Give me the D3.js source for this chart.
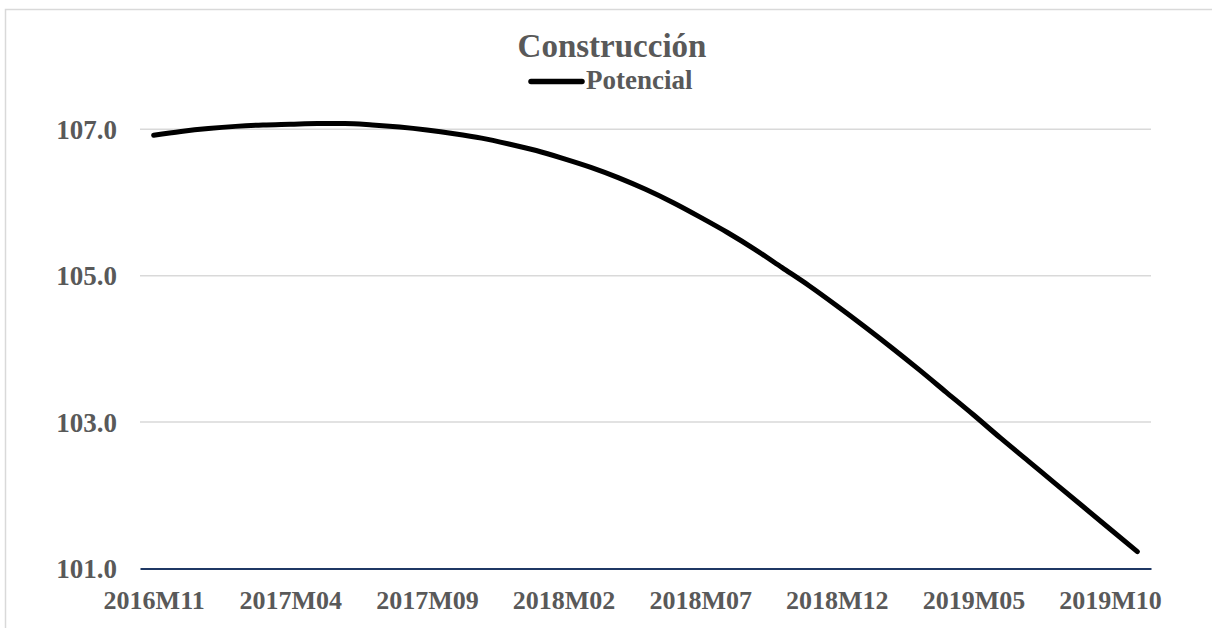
<!DOCTYPE html>
<html>
<head>
<meta charset="utf-8">
<script src="https://cdn.jsdelivr.net/npm/d3@7"></script>
<style>
  html, body { margin: 0; padding: 0; background: #fff; }
  svg { display: block; }
  text { font-family: "Liberation Serif", "DejaVu Serif", serif; font-weight: bold; fill: #595959; }
</style>
</head>
<body>
<script>
// months shown on the category axis (one point per month)
var months = [
  "2016M11","2016M12","2017M01","2017M02","2017M03","2017M04","2017M05","2017M06",
  "2017M07","2017M08","2017M09","2017M10","2017M11","2017M12","2018M01","2018M02",
  "2018M03","2018M04","2018M05","2018M06","2018M07","2018M08","2018M09","2018M10",
  "2018M11","2018M12","2019M01","2019M02","2019M03","2019M04","2019M05","2019M06",
  "2019M07","2019M08","2019M09","2019M10","2019M11"
];
// "Potencial" series
var potencial = [
  106.92,106.97,107.01,107.04,107.06,107.07,107.08,107.08,
  107.06,107.03,106.99,106.94,106.88,106.80,106.71,106.60,
  106.48,106.34,106.18,106.00,105.80,105.59,105.36,105.11,
  104.86,104.59,104.31,104.02,103.72,103.41,103.10,102.78,
  102.47,102.16,101.85,101.54,101.23
];
var xTickLabels = ["2016M11","2017M04","2017M09","2018M02","2018M07","2018M12","2019M05","2019M10"];
var yTicks = [101, 103, 105, 107];

var w = 1212, h = 628;
var plotLeft = 140, plotRight = 1151, plotTop = 129.3, plotBottom = 568.5;

var svg = d3.select("body").append("svg")
  .attr("width", w)
  .attr("height", h);

// chart frame (runs off the page on the right and bottom)
svg.append("rect")
  .attr("x", 5.5).attr("y", 9.5)
  .attr("width", w).attr("height", h)
  .attr("fill", "#fff")
  .attr("stroke", "#d9d9d9")
  .attr("stroke-width", 1.5);

var xScale = d3.scalePoint()
  .domain(months)
  .range([plotLeft, plotRight])
  .padding(0.5);
var yScale = d3.scaleLinear()
  .domain([101, 107])
  .range([plotBottom, plotTop]);

// gridlines
svg.append("g")
  .selectAll("line")
  .data(yTicks.filter(function(d) { return d > 101; }))
  .enter().append("line")
  .attr("x1", plotLeft).attr("x2", plotRight)
  .attr("y1", function(d) { return yScale(d); })
  .attr("y2", function(d) { return yScale(d); })
  .attr("stroke", "#d9d9d9")
  .attr("stroke-width", 1.5);

// y axis labels
var yAxis = d3.axisLeft(yScale)
  .tickValues(yTicks)
  .tickFormat(d3.format(".1f"))
  .tickSize(0)
  .tickPadding(23);
var gy = svg.append("g")
  .attr("transform", "translate(" + plotLeft + ",0)")
  .call(yAxis);
gy.select(".domain").remove();
gy.selectAll("text")
  .attr("dy", "0.33em")
  .style("font-size", "27px")
  .style("font-family", "Liberation Serif")
  .attr("fill", "#595959");

// x axis
var xAxis = d3.axisBottom(xScale)
  .tickValues(xTickLabels)
  .tickSize(0)
  .tickPadding(22);
var gx = svg.append("g")
  .attr("transform", "translate(0," + plotBottom + ")")
  .call(xAxis);
gx.select(".domain")
  .attr("stroke", "#1f3864")
  .attr("stroke-width", 2);
gx.selectAll("text")
  .style("font-size", "26px")
  .style("font-family", "Liberation Serif")
  .attr("fill", "#595959");

// series line
var line = d3.line()
  .x(function(d, i) { return xScale(months[i]); })
  .y(function(d) { return yScale(d); })
  .curve(d3.curveMonotoneX);
svg.append("path")
  .datum(potencial)
  .attr("d", line)
  .attr("fill", "none")
  .attr("stroke", "#000")
  .attr("stroke-width", 5)
  .attr("stroke-linecap", "round")
  .attr("stroke-linejoin", "round");

// title
svg.append("text")
  .attr("x", 612)
  .attr("y", 56.5)
  .attr("text-anchor", "middle")
  .style("font-size", "33px")
  .text("Construcción");

// legend
svg.append("line")
  .attr("x1", 531).attr("x2", 582)
  .attr("y1", 81.5).attr("y2", 81.5)
  .attr("stroke", "#000")
  .attr("stroke-width", 5.5)
  .attr("stroke-linecap", "round");
svg.append("text")
  .attr("x", 586)
  .attr("y", 88.5)
  .style("font-size", "27px")
  .text("Potencial");
</script>
</body>
</html>
